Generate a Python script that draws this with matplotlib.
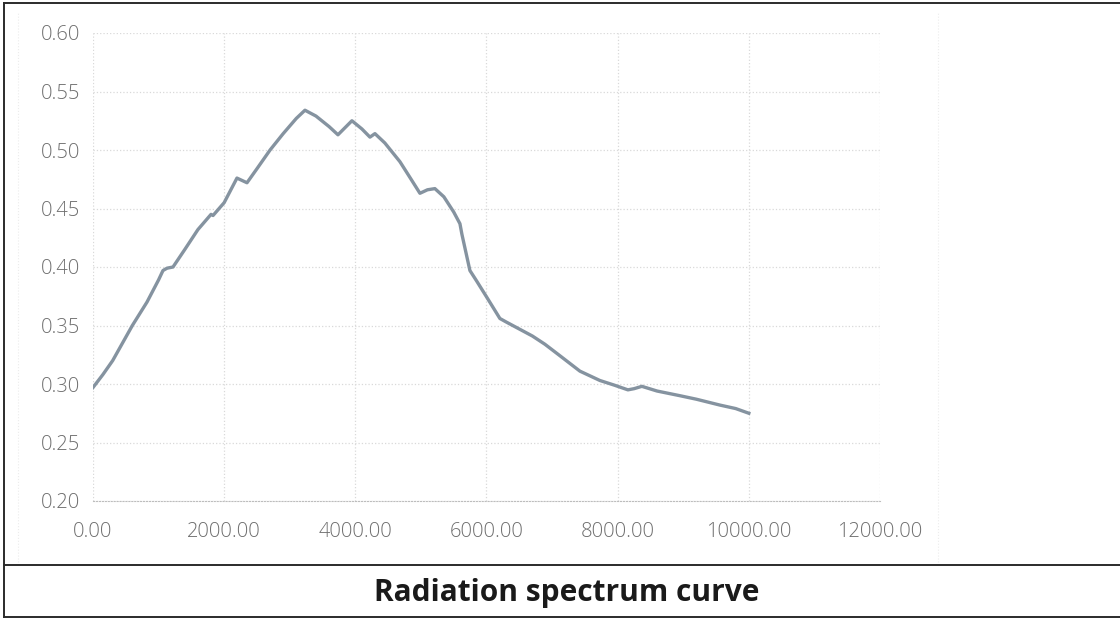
#!/usr/bin/env python
"""Radiation spectrum curve, redrawn from a scanned chart."""

import matplotlib

matplotlib.use("Agg")
import matplotlib.pyplot as plt
from matplotlib.lines import Line2D

# values
wavelength = [0, 150, 300, 450, 600, 823, 1000, 1067, 1130, 1220, 1400, 1600, 1800, 1830,
              2000, 2195, 2348, 2500, 2700, 2900, 3100, 3232, 3400, 3600, 3735, 3948, 4100,
              4223, 4299, 4450, 4680, 4850, 4985, 5100, 5213, 5350, 5500, 5595, 5625, 5747,
              5850, 6006, 6204, 6300, 6500, 6700, 6890, 7100, 7424, 7729, 7950, 8156, 8250,
              8369, 8600, 8949, 9200, 9558, 9800, 10000]
intensity = [0.297, 0.308, 0.320, 0.335, 0.350, 0.370, 0.389, 0.397, 0.399, 0.400, 0.415,
             0.432, 0.445, 0.444, 0.455, 0.476, 0.472, 0.484, 0.500, 0.514, 0.527, 0.534,
             0.529, 0.520, 0.513, 0.525, 0.518, 0.511, 0.514, 0.506, 0.490, 0.475, 0.463,
             0.466, 0.467, 0.460, 0.447, 0.437, 0.428, 0.397, 0.388, 0.374, 0.356, 0.353,
             0.347, 0.341, 0.334, 0.325, 0.311, 0.303, 0.299, 0.295, 0.296, 0.298, 0.294,
             0.290, 0.287, 0.282, 0.279, 0.275]
x_ticks = [0, 2000, 4000, 6000, 8000, 10000, 12000]
y_ticks = [0.20, 0.25, 0.30, 0.35, 0.40, 0.45, 0.50, 0.55, 0.60]
title = "Radiation spectrum curve"

W, H = 1120, 618
fig = plt.figure(figsize=(W / 100, H / 100), dpi=100)
ax = fig.add_axes([93 / W, 1 - 501 / H, (880 - 93) / W, (501 - 33) / H])

ax.plot(wavelength, intensity, color="#8593a0", lw=2.4, solid_joinstyle="round")

ax.set_xlim(0, 12000)
ax.set_ylim(0.20, 0.60)
ax.set_xticks(x_ticks)
ax.set_yticks(y_ticks)
ax.set_xticklabels([f"{v:.2f}" for v in x_ticks])
ax.set_yticklabels([f"{v:.2f}" for v in y_ticks])
ax.grid(True, color="#d9d9d9", ls=":", lw=0.9)
ax.set_axisbelow(True)
for side in ("top", "right", "left"):
    ax.spines[side].set_visible(False)
ax.spines["bottom"].set_color("#bdbdbd")
ax.spines["bottom"].set_linestyle(":")
ax.tick_params(length=0, labelsize=14.5, labelcolor="#6e6e6e")
ax.tick_params(axis="x", pad=15)
ax.tick_params(axis="y", pad=9)
for lab in ax.get_xticklabels() + ax.get_yticklabels():
    lab.set_family("Open Sans")
    lab.set_fontweight("light")

# frame of the scanned figure
frame = dict(color="#2b2b2b", lw=1.4, transform=fig.transFigure)
fig.add_artist(Line2D([4 / W, 4 / W], [0, 1 - 3 / H], **frame))
fig.add_artist(Line2D([4 / W, 1], [1 - 3 / H, 1 - 3 / H], **frame))
fig.add_artist(Line2D([4 / W, 1], [1 - 565 / H, 1 - 565 / H], **frame))
fig.add_artist(Line2D([4 / W, 1], [1 - 617 / H, 1 - 617 / H], **frame))
faint = dict(color="#ececec", lw=0.8, ls=":", transform=fig.transFigure)
fig.add_artist(Line2D([18 / W, 18 / W], [1 - 562 / H, 1 - 12 / H], **faint))
fig.add_artist(Line2D([938 / W, 938 / W], [1 - 562 / H, 1 - 12 / H], **faint))

fig.text(567 / W, 1 - 593 / H, title, ha="center", va="center",
         fontsize=21.5, fontweight="bold", family="Open Sans", color="#1a1a1a")

fig.savefig("out.png", dpi=100)
